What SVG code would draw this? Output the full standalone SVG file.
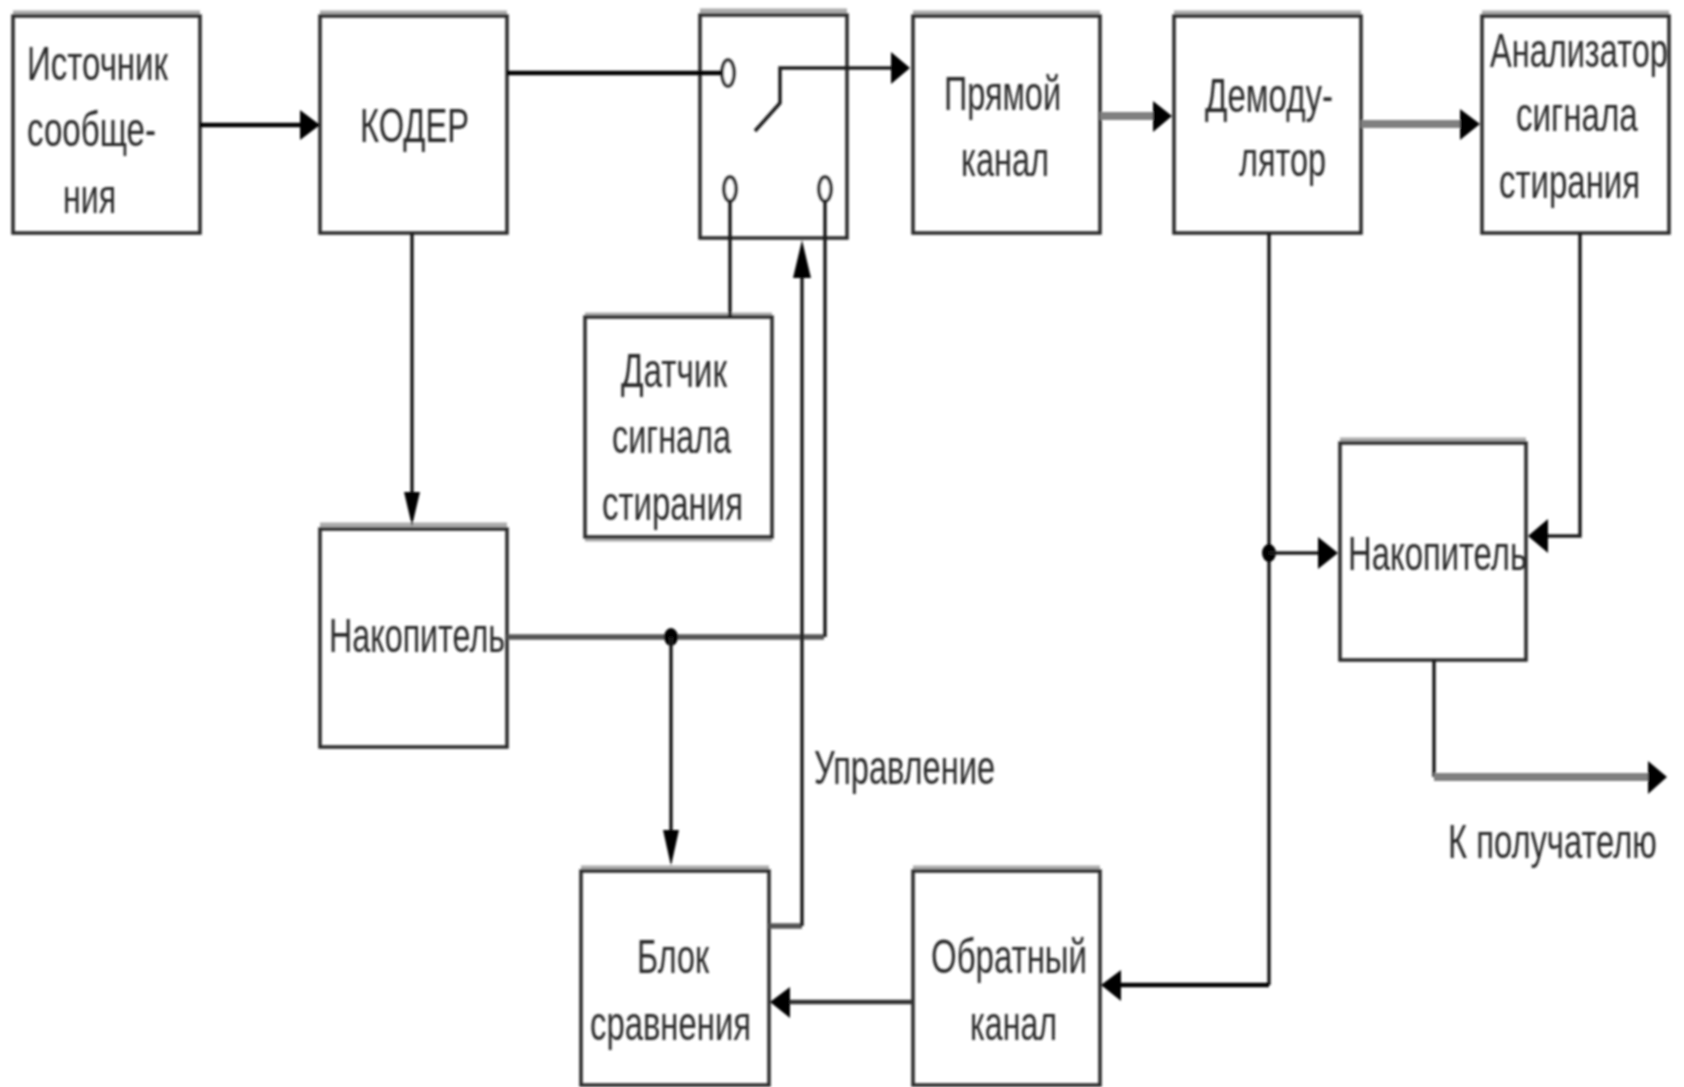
<svg xmlns="http://www.w3.org/2000/svg" width="1684" height="1087" viewBox="0 0 1684 1087">
<style>
.b{fill:none;stroke:#2a2a2a;stroke-width:3.5}
.t{fill:none;stroke:#aaa;stroke-width:5}
.l{fill:none;stroke:#1c1c1c;stroke-width:3.5}
.h{fill:none;stroke:#000;stroke-width:4.5}
.g{fill:none;stroke:#808080;stroke-width:8}
.m{fill:none;stroke:#555;stroke-width:5.5}
.a{fill:#000}
.c{fill:#fff;stroke:#333;stroke-width:3.5}
text{font-family:"Liberation Sans",Arial,sans-serif;font-size:48px;fill:#2b2b2b}
</style>
<defs><filter id="s" x="0" y="0" width="1684" height="1087" filterUnits="userSpaceOnUse"><feGaussianBlur stdDeviation="1"/></filter></defs>
<rect width="1684" height="1087" fill="#fff"/>
<g filter="url(#s)">
<g id="source"><path class="t" d="M13 13H200"/><rect class="b" x="13" y="16" width="187" height="217"/>
<text x="27" y="80" textLength="141" lengthAdjust="spacingAndGlyphs">Источник</text><text x="27" y="146" textLength="129" lengthAdjust="spacingAndGlyphs">сообще-</text><text x="63" y="213" textLength="53" lengthAdjust="spacingAndGlyphs">ния</text></g>
<g id="coder"><path class="t" d="M320 13H507"/><rect class="b" x="320" y="16" width="187" height="217"/>
<text x="360" y="142" textLength="109" lengthAdjust="spacingAndGlyphs">КОДЕР</text></g>
<g id="switch"><path class="t" d="M700 11H847"/><rect class="b" x="700" y="15" width="147" height="223"/>
<ellipse class="c" cx="728" cy="73" rx="6" ry="13"/>
<ellipse class="c" cx="730" cy="189" rx="6" ry="12"/>
<ellipse class="c" cx="825" cy="189" rx="6" ry="12"/></g>
<g id="direct-channel"><path class="t" d="M913 13H1100"/><rect class="b" x="913" y="16" width="187" height="217"/>
<text x="944" y="110" textLength="117" lengthAdjust="spacingAndGlyphs">Прямой</text><text x="961" y="176" textLength="88" lengthAdjust="spacingAndGlyphs">канал</text></g>
<g id="demodulator"><path class="t" d="M1174 13H1361"/><rect class="b" x="1174" y="16" width="187" height="217"/>
<text x="1205" y="112" textLength="128" lengthAdjust="spacingAndGlyphs">Демоду-</text><text x="1239" y="176" textLength="87" lengthAdjust="spacingAndGlyphs">лятор</text></g>
<g id="analyzer"><path class="t" d="M1482 13H1669"/><rect class="b" x="1482" y="16" width="187" height="217"/>
<text transform="translate(1490 67) scale(0.72 1)" textLength="247" lengthAdjust="spacingAndGlyphs">Анализатор</text><text transform="translate(1516 131) scale(0.72 1)" textLength="169" lengthAdjust="spacingAndGlyphs">сигнала</text><text transform="translate(1499 198) scale(0.72 1)" textLength="196" lengthAdjust="spacingAndGlyphs">стирания</text></g>
<g id="sensor"><path class="t" d="M585 315H772M585 539H772"/><rect class="b" x="585" y="317" width="187" height="220"/>
<text x="621" y="387" textLength="106" lengthAdjust="spacingAndGlyphs">Датчик</text><text x="612" y="453" textLength="119" lengthAdjust="spacingAndGlyphs">сигнала</text><text x="602" y="520" textLength="141" lengthAdjust="spacingAndGlyphs">стирания</text></g>
<g id="store-left"><path class="t" d="M320 525H507"/><rect class="b" x="320" y="529" width="187" height="218"/>
<text x="329" y="652" textLength="176" lengthAdjust="spacingAndGlyphs">Накопитель</text></g>
<g id="store-right"><path class="t" d="M1340 440H1526"/><rect class="b" x="1340" y="443" width="186" height="217"/>
<text x="1348" y="570" textLength="179" lengthAdjust="spacingAndGlyphs">Накопитель</text></g>
<g id="compare"><path class="t" d="M581 868H769"/><rect class="b" x="581" y="871" width="188" height="214"/>
<text x="637" y="973" textLength="72" lengthAdjust="spacingAndGlyphs">Блок</text><text x="590" y="1040" textLength="161" lengthAdjust="spacingAndGlyphs">сравнения</text></g>
<g id="back-channel"><path class="t" d="M913 868H1100"/><rect class="b" x="913" y="871" width="187" height="214"/>
<text x="931" y="973" textLength="156" lengthAdjust="spacingAndGlyphs">Обратный</text><text x="970" y="1040" textLength="87" lengthAdjust="spacingAndGlyphs">канал</text></g>
<g id="connectors">
<path class="h" d="M200 125H305"/><path class="a" d="M320 125L300 110V140Z"/>
<path class="h" d="M507 73H722"/>
<path class="l" d="M755 131L780 103V68H895"/><path class="a" d="M910 68L891 52V84Z"/>
<path class="g" d="M1100 116H1160"/><path class="a" d="M1172 116L1153 101V132Z"/>
<path class="g" d="M1361 124H1465"/><path class="a" d="M1480 124L1460 109V140Z"/>
<path class="l" d="M412 233V510"/><path class="a" d="M412 526L404 492H420Z"/>
<path class="l" d="M730 201V317"/>
<path class="m" d="M507 637H824"/>
<path class="l" d="M825 201V637"/>
<ellipse class="a" cx="671" cy="637" rx="7" ry="9"/>
<path class="l" d="M671 637V855"/><path class="a" d="M671 866L663 830H679Z"/>
<path class="m" d="M769 926H802"/><path class="l" d="M802 926V270"/><path class="a" d="M802 240L793 278H811Z"/>
<path class="h" d="M913 1002H785" style="stroke:#333"/><path class="a" d="M770 1002L790 987V1018Z"/>
<path class="l" d="M1269 233V985"/><path class="h" d="M1269 985H1115"/><path class="a" d="M1101 985L1121 970V1001Z"/>
<ellipse class="a" cx="1269" cy="553" rx="7" ry="9"/><path class="l" d="M1269 553H1325"/><path class="a" d="M1338 553L1318 537V569Z"/>
<path class="l" d="M1580 233V536H1545"/><path class="a" d="M1528 536L1548 519V553Z"/>
<path class="l" d="M1434 660V777"/><path class="g" d="M1434 777H1650"/><path class="a" d="M1667 777L1648 761V794Z"/>
</g>
<text id="label-control" x="814" y="784" textLength="181" lengthAdjust="spacingAndGlyphs">Управление</text>
<text id="label-receiver" transform="translate(1448 858) scale(0.72 1)" textLength="290" lengthAdjust="spacingAndGlyphs">К получателю</text>
</g>
</svg>
